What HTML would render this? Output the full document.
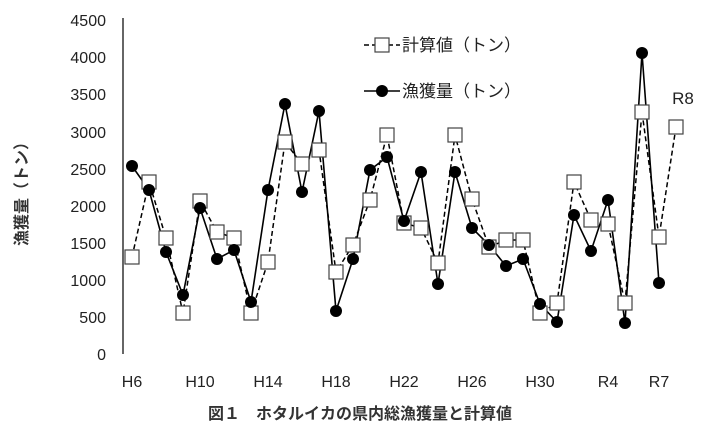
<!DOCTYPE html>
<html><head><meta charset="utf-8"><style>
body{margin:0;background:#fff;}
svg{display:block;font-family:"Liberation Sans","Noto Sans CJK JP",sans-serif;}
</style></head><body>
<svg width="720" height="443" viewBox="0 0 720 443">
<g font-size="16" fill="#222" text-anchor="end">
<text x="106" y="360">0</text><text x="106" y="323">500</text><text x="106" y="286">1000</text>
<text x="106" y="249">1500</text><text x="106" y="212">2000</text><text x="106" y="175">2500</text>
<text x="106" y="138">3000</text><text x="106" y="100">3500</text><text x="106" y="63">4000</text><text x="106" y="26">4500</text>
</g>
<line x1="123" y1="18" x2="123" y2="354" stroke="#000" stroke-width="1.2"/>
<g font-size="16" fill="#222" text-anchor="middle">
<text x="132" y="387">H6</text><text x="200" y="387">H10</text><text x="268" y="387">H14</text>
<text x="336" y="387">H18</text><text x="404" y="387">H22</text><text x="472" y="387">H26</text>
<text x="540" y="387">H30</text><text x="608" y="387">R4</text><text x="659" y="387">R7</text>
<text x="683" y="104" font-size="17">R8</text>
</g>
<text transform="translate(27,190) rotate(-90)" font-size="16" font-weight="bold" fill="#333" text-anchor="middle">漁獲量（トン）</text>
<text x="360" y="419" font-size="16" font-weight="bold" fill="#333" text-anchor="middle">図１　ホタルイカの県内総漁獲量と計算値</text>
<polyline fill="none" stroke="#000" stroke-width="1.5" stroke-dasharray="5,3" points="132,257 149,182 166,238 183,313 200,201 217,232 234,238 251,313 268,262 285,142 302,164 319,150 336,272 353,245 370,200 387,135 404,223 421,228 438,263 455,135 472,199 489,247 506,240 523,240 540,313 557,303 574,182 591,220 608,224 625,303 642,112 659,237 676,127"/>
<polyline fill="none" stroke="#000" stroke-width="1.6" points="132,166 149,190 166,252 183,295 200,208 217,259 234,250 251,302 268,190 285,104 302,192 319,111 336,311 353,259 370,170 387,157 404,221 421,172 438,284 455,172 472,228 489,245 506,266 523,259 540,304 557,322 574,215 591,251 608,200 625,323 642,53 659,283"/>
<g fill="#fff" stroke="#444" stroke-width="1.2">
<rect x="125" y="250" width="14" height="14"/><rect x="142" y="175" width="14" height="14"/><rect x="159" y="231" width="14" height="14"/><rect x="176" y="306" width="14" height="14"/><rect x="193" y="194" width="14" height="14"/><rect x="210" y="225" width="14" height="14"/><rect x="227" y="231" width="14" height="14"/><rect x="244" y="306" width="14" height="14"/><rect x="261" y="255" width="14" height="14"/><rect x="278" y="135" width="14" height="14"/><rect x="295" y="157" width="14" height="14"/><rect x="312" y="143" width="14" height="14"/><rect x="329" y="265" width="14" height="14"/><rect x="346" y="238" width="14" height="14"/><rect x="363" y="193" width="14" height="14"/><rect x="380" y="128" width="14" height="14"/><rect x="397" y="216" width="14" height="14"/><rect x="414" y="221" width="14" height="14"/><rect x="431" y="256" width="14" height="14"/><rect x="448" y="128" width="14" height="14"/><rect x="465" y="192" width="14" height="14"/><rect x="482" y="240" width="14" height="14"/><rect x="499" y="233" width="14" height="14"/><rect x="516" y="233" width="14" height="14"/><rect x="533" y="306" width="14" height="14"/><rect x="550" y="296" width="14" height="14"/><rect x="567" y="175" width="14" height="14"/><rect x="584" y="213" width="14" height="14"/><rect x="601" y="217" width="14" height="14"/><rect x="618" y="296" width="14" height="14"/><rect x="635" y="105" width="14" height="14"/><rect x="652" y="230" width="14" height="14"/><rect x="669" y="120" width="14" height="14"/>
</g>
<g fill="#000">
<circle cx="132" cy="166" r="6"/><circle cx="149" cy="190" r="6"/><circle cx="166" cy="252" r="6"/><circle cx="183" cy="295" r="6"/><circle cx="200" cy="208" r="6"/><circle cx="217" cy="259" r="6"/><circle cx="234" cy="250" r="6"/><circle cx="251" cy="302" r="6"/><circle cx="268" cy="190" r="6"/><circle cx="285" cy="104" r="6"/><circle cx="302" cy="192" r="6"/><circle cx="319" cy="111" r="6"/><circle cx="336" cy="311" r="6"/><circle cx="353" cy="259" r="6"/><circle cx="370" cy="170" r="6"/><circle cx="387" cy="157" r="6"/><circle cx="404" cy="221" r="6"/><circle cx="421" cy="172" r="6"/><circle cx="438" cy="284" r="6"/><circle cx="455" cy="172" r="6"/><circle cx="472" cy="228" r="6"/><circle cx="489" cy="245" r="6"/><circle cx="506" cy="266" r="6"/><circle cx="523" cy="259" r="6"/><circle cx="540" cy="304" r="6"/><circle cx="557" cy="322" r="6"/><circle cx="574" cy="215" r="6"/><circle cx="591" cy="251" r="6"/><circle cx="608" cy="200" r="6"/><circle cx="625" cy="323" r="6"/><circle cx="642" cy="53" r="6"/><circle cx="659" cy="283" r="6"/>
</g>
<line x1="364" y1="45" x2="400" y2="45" stroke="#000" stroke-width="1.5" stroke-dasharray="5,3"/>
<rect x="375" y="38" width="14" height="14" fill="#fff" stroke="#444" stroke-width="1.2"/>
<text x="402" y="51" font-size="17" fill="#222">計算値（トン）</text>
<line x1="364" y1="91" x2="400" y2="91" stroke="#000" stroke-width="1.6"/>
<circle cx="382" cy="91" r="6" fill="#000"/>
<text x="402" y="97" font-size="17" fill="#222">漁獲量（トン）</text>
</svg>
</body></html>
